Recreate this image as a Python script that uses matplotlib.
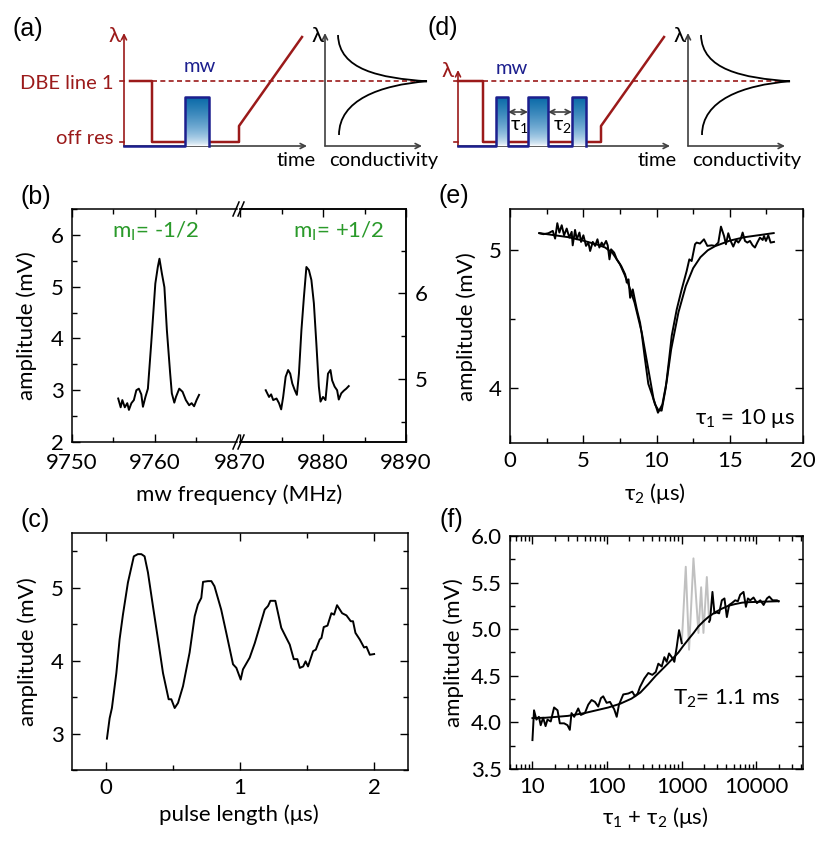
import numpy as np
import matplotlib.pyplot as plt
from matplotlib.colors import LinearSegmentedColormap
from matplotlib.lines import Line2D
from matplotlib.path import Path
from matplotlib.patches import PathPatch
from matplotlib.ticker import MultipleLocator, FixedLocator, LogLocator, NullFormatter, FuncFormatter

plt.rcParams['font.family'] = ['Lato', 'DejaVu Sans']
plt.rcParams['mathtext.fontset'] = 'custom'
plt.rcParams['mathtext.rm'] = 'Lato'
plt.rcParams['mathtext.it'] = 'Lato:italic'
plt.rcParams['mathtext.fallback'] = 'stixsans'

# ---------------- data ----------------
# (b) mw frequency sweeps of the two hyperfine lines
freq_lo = [9755.6, 9755.9, 9756.1, 9756.4, 9756.7, 9756.9, 9757.2, 9757.5, 9757.8, 9758.1,
           9758.4, 9758.6, 9758.9, 9759.2, 9759.6, 9760.1, 9760.4, 9760.6, 9760.9, 9761.2,
           9761.5, 9761.9, 9762.1, 9762.4, 9762.6, 9763.0, 9763.4, 9763.8, 9764.2, 9764.5,
           9764.8, 9765.1, 9765.4]
amp_lo = [2.84, 2.67, 2.81, 2.67, 2.75, 2.62, 2.75, 2.81, 3.00, 3.03,
          2.92, 2.68, 2.87, 3.03, 3.90, 5.06, 5.38, 5.54, 5.25, 4.99,
          4.16, 3.32, 2.94, 2.76, 2.87, 3.03, 2.97, 2.81, 2.71, 2.75,
          2.69, 2.81, 2.91]
freq_hi = [9873.1, 9873.5, 9873.75, 9874.0, 9874.4, 9874.7, 9874.96, 9875.2, 9875.5, 9875.8,
           9876.05, 9876.3, 9876.6, 9876.85, 9877.1, 9877.4, 9877.7, 9878.0, 9878.3, 9878.6,
           9878.9, 9879.2, 9879.5, 9879.7, 9880.0, 9880.3, 9880.6, 9880.9, 9881.1, 9881.4,
           9881.7, 9881.9, 9882.2, 9882.5, 9882.8, 9883.1]
amp_hi = [3.00, 2.87, 2.92, 2.81, 2.84, 2.75, 2.63, 2.87, 3.26, 3.39,
          3.32, 3.13, 3.00, 2.91, 3.32, 4.16, 4.80, 5.38, 5.32, 5.13,
          4.68, 3.90, 3.07, 2.78, 2.87, 2.81, 3.32, 3.39, 3.19, 3.07,
          3.00, 2.82, 2.94, 2.99, 3.03, 3.08]

# (c) Rabi oscillation
pulse_len = [0.01, 0.03, 0.047, 0.08, 0.104, 0.129, 0.166, 0.21, 0.24, 0.266,
             0.29, 0.315, 0.352, 0.39, 0.427, 0.469, 0.489, 0.514, 0.539, 0.576,
             0.625, 0.663, 0.687, 0.712, 0.725, 0.761, 0.787, 0.81, 0.86, 0.898,
             0.948, 0.973, 1.005, 1.022, 1.072, 1.11, 1.147, 1.184, 1.209, 1.226,
             1.263, 1.307, 1.345, 1.37, 1.40, 1.427, 1.445, 1.47, 1.488, 1.506,
             1.544, 1.564, 1.593, 1.606, 1.623, 1.651, 1.68, 1.70, 1.722, 1.76,
             1.792, 1.824, 1.841, 1.859, 1.891, 1.923, 1.941, 1.966, 1.998]
rabi_amp = [2.93, 3.21, 3.35, 3.83, 4.29, 4.63, 5.07, 5.43, 5.46, 5.46,
            5.43, 5.21, 4.75, 4.29, 3.83, 3.47, 3.47, 3.35, 3.42, 3.65,
            4.11, 4.61, 4.77, 4.86, 5.08, 5.09, 5.09, 5.02, 4.70, 4.38,
            3.95, 3.90, 3.74, 3.88, 4.04, 4.24, 4.47, 4.70, 4.75, 4.82,
            4.82, 4.45, 4.31, 4.22, 4.02, 4.02, 3.90, 3.92, 3.99, 3.92,
            4.13, 4.15, 4.29, 4.31, 4.46, 4.48, 4.65, 4.63, 4.76, 4.65,
            4.62, 4.54, 4.54, 4.38, 4.29, 4.18, 4.19, 4.08, 4.09]

# (e) echo vs tau2 (tau1 = 10 us)
tau2 = [2.00, 2.28, 2.62, 2.92, 3.08, 3.23, 3.37, 3.53, 3.69, 3.87,
        4.05, 4.21, 4.28, 4.44, 4.56, 4.74, 4.85, 5.01, 5.19, 5.35,
        5.47, 5.65, 5.81, 5.97, 6.10, 6.26, 6.38, 6.56, 6.67, 6.79,
        6.90, 7.11, 7.29, 7.59, 7.86, 7.97, 8.09, 8.20, 8.38, 8.54,
        8.66, 8.88, 9.00, 9.20, 9.44, 9.70, 9.90, 10.12, 10.35, 10.63,
        10.85, 11.04, 11.38, 11.72, 12.06, 12.24, 12.40, 12.63, 12.74, 12.97,
        13.24, 13.47, 13.77, 13.99, 14.22, 14.40, 14.61, 14.74, 14.90, 15.06,
        15.24, 15.43, 15.59, 15.74, 15.88, 16.04, 16.20, 16.38, 16.56, 16.72,
        16.88, 17.06, 17.25, 17.34, 17.47, 17.63, 17.79, 18.02]
echo_amp = [5.124, 5.117, 5.124, 5.141, 5.085, 5.197, 5.129, 5.182, 5.109, 5.158,
            5.092, 5.134, 5.036, 5.148, 5.080, 5.129, 5.061, 5.109, 5.032, 5.056,
            4.995, 5.061, 5.032, 5.080, 5.020, 5.056, 5.032, 5.068, 5.036, 4.934,
            5.007, 4.983, 4.934, 4.886, 4.825, 4.765, 4.789, 4.655, 4.716, 4.631,
            4.570, 4.473, 4.388, 4.220, 4.030, 3.950, 3.880, 3.840, 3.835, 4.000,
            4.200, 4.380, 4.570, 4.716, 4.850, 4.934, 4.922, 5.044, 5.056, 5.049,
            5.080, 5.032, 5.036, 5.032, 5.056, 5.172, 5.104, 5.044, 5.124, 5.068,
            5.027, 5.075, 5.056, 5.080, 5.129, 5.068, 5.056, 5.068, 5.036, 5.020,
            5.056, 5.092, 5.075, 5.104, 5.068, 5.109, 5.056, 5.061]
tau2_fit = [2, 3, 4, 5, 6, 6.5, 7, 7.5, 8, 8.5, 9, 9.5, 9.8, 10.1,
            10.4, 10.7, 11, 11.5, 12, 12.5, 13, 13.5, 14, 15, 16, 17, 18]
echo_fit = [5.125, 5.11, 5.095, 5.07, 5.04, 5.02, 4.98, 4.90, 4.78, 4.62, 4.40, 4.10, 3.92, 3.82,
            3.88, 4.05, 4.28, 4.55, 4.74, 4.87, 4.95, 5.00, 5.03, 5.07, 5.095, 5.11, 5.125]

# (f) echo decay vs tau1 + tau2
tau_sum_a = [10, 10.5, 11.3, 12.2, 12.9, 13.9, 15.0, 15.9, 17.6, 19.5,
             21.7, 23.3, 26.6, 29.5, 31.7, 33.4, 36.3, 41.1, 44.6, 50.5,
             56, 62.1, 68.8, 76.2, 82.8, 88.9, 98.8, 109.6, 125, 134.9,
             144.7, 165.2, 192.8, 218.3, 237.3, 257.8, 276.9, 316, 358, 405,
             450, 488, 542, 588, 631, 679, 738, 800, 861, 925, 1006]
decay_a = [3.81, 4.13, 4.03, 4.06, 3.97, 4.05, 3.96, 4.03, 4.01, 4.16,
           4.13, 3.99, 3.99, 3.97, 3.92, 4.10, 4.06, 4.15, 4.08, 4.10,
           4.19, 4.24, 4.22, 4.17, 4.26, 4.28, 4.21, 4.22, 4.14, 4.06,
           4.19, 4.30, 4.31, 4.33, 4.28, 4.31, 4.38, 4.47, 4.53, 4.51,
           4.54, 4.63, 4.60, 4.70, 4.65, 4.74, 4.70, 4.65, 4.81, 4.99, 4.85]
tau_sum_b = [2344, 2413, 2594, 2761, 2950, 3190, 3467, 3758, 4047, 4345,
             4728, 5238, 5690, 6110, 6772, 7290, 7760, 8330, 9230, 10250,
             11360, 12590, 13960, 15000, 16620, 19040, 20000]
decay_b = [5.08, 5.10, 5.40, 5.17, 5.18, 5.17, 5.31, 5.33, 5.13, 5.26,
           5.28, 5.31, 5.30, 5.37, 5.40, 5.24, 5.33, 5.31, 5.34, 5.28,
           5.31, 5.26, 5.33, 5.35, 5.31, 5.31, 5.30]
tau_sum_grey = [1006, 1138, 1260, 1443, 1683, 1829, 1964, 2181, 2344]
decay_grey = [4.85, 5.67, 4.78, 5.76, 4.96, 5.45, 4.96, 5.56, 5.08]
tau_sum_fit = [10, 15, 30, 50, 104, 150, 213, 280, 358, 450, 600, 750, 907, 1050,
               1232, 1450, 1682, 2000, 2282, 2800, 3466, 4200, 5238, 6500, 7910, 12000, 20000]
decay_fit = [4.046, 4.05, 4.07, 4.10, 4.16, 4.20, 4.255, 4.32, 4.41, 4.50, 4.60, 4.68, 4.75, 4.82,
             4.89, 4.96, 5.03, 5.09, 5.13, 5.18, 5.22, 5.25, 5.27, 5.285, 5.29, 5.295, 5.30]

# schematics (a) and (d): drawn in figure pixel units
seq_a_t = [130, 152, 152, 239, 239, 302]
seq_d_t = [458, 483, 483, 601, 601, 664]
seq_lam = [81, 81, 142, 142, 126, 37]
pulses_a = [(185, 209)]
pulses_d = [(496, 508), (528, 548), (572, 586)]

RED = '#9b1a1a'
NAVY = '#1c1f8e'
GREEN = '#2a9a2a'
AXC = '#404040'

W, H = 830, 847
fig = plt.figure(figsize=(8.3, 8.47), dpi=100)


def rect(l, t, r, b):
    return [l / W, 1 - b / H, (r - l) / W, (b - t) / H]


def ftext(x, y, s, **kw):
    fig.text(x / W, 1 - y / H, s, **kw)


# ---------- schematic layer ----------
sk = fig.add_axes([0, 0, 1, 1])
sk.set_facecolor('none')
sk.axis('off')
mw_cmap = LinearSegmentedColormap.from_list('mw', ['#ffffff', '#7fb3d8', '#0a6aa8'])
grad = (np.linspace(1, 0, 100) ** 0.6).reshape(-1, 1)
base_y = 146


def arrow(x0, y0, x1, y1, color, style='->'):
    sk.annotate('', xy=(x1, y1), xytext=(x0, y0),
                arrowprops=dict(arrowstyle=style, color=color, lw=1.2,
                                shrinkA=0, shrinkB=0, mutation_scale=9))


def sequence(x_ax, lam_top, t_end, red_t, pulses, dash_end):
    arrow(x_ax, base_y, x_ax, lam_top, RED)
    for y in (seq_lam[0], seq_lam[2]):
        sk.plot([x_ax - 4, x_ax], [y, y], color=RED, lw=1.2)
    arrow(x_ax, base_y, t_end, base_y, AXC)
    xs, ys = [x_ax], [base_y]
    for p0, p1 in pulses:
        xs += [p0, p0, p1, p1]
        ys += [base_y, 97, 97, base_y]
        sk.imshow(grad, cmap=mw_cmap, extent=(p0, p1, base_y, 97),
                  aspect='auto', zorder=3, vmin=0, vmax=1)
    sk.plot(xs, ys, color=NAVY, lw=1.8, zorder=4)
    sk.plot(red_t, seq_lam, color=RED, lw=1.8, zorder=2)
    sk.plot([red_t[1], dash_end], [seq_lam[0]] * 2, color=RED, lw=1.2,
            ls=(0, (3, 2)), zorder=1)


def lorentz(x_ax):
    arrow(x_ax, base_y, x_ax, 33, AXC)
    arrow(x_ax, base_y, x_ax + 97, base_y, AXC)
    verts = [(x_ax + 13, 35), (x_ax + 14, 70), (x_ax + 55, 78), (x_ax + 102, 81.3),
             (x_ax + 55, 85), (x_ax + 14, 100), (x_ax + 14, 135)]
    codes = [Path.MOVETO] + [Path.CURVE4] * 6
    sk.add_patch(PathPatch(Path(verts, codes), fill=False, lw=1.3, ec='black'))


sequence(124, 33, 307, seq_a_t, pulses_a, 427)
lorentz(325)
sequence(458, 70, 670, seq_d_t, pulses_d, 790)
lorentz(688)
for x0, x1 in ((508, 528), (548, 572)):
    arrow(x0, 112, x1, 112, AXC, '<->')
sk.set_xlim(0, W)
sk.set_ylim(H, 0)

fs = 14.5
sk.text(113, 89, 'DBE line 1', color=RED, fontsize=fs, ha='right', va='baseline')
sk.text(113, 144, 'off res', color=RED, fontsize=fs, ha='right', va='baseline')
sk.text(200, 72.5, 'mw', color=NAVY, fontsize=fs, ha='center', va='baseline')
sk.text(512, 74, 'mw', color=NAVY, fontsize=fs, ha='center', va='baseline')
sk.text(115, 41.5, 'λ', color=RED, fontsize=16, ha='center', va='baseline')
sk.text(448, 77, 'λ', color=RED, fontsize=16, ha='center', va='baseline')
sk.text(318, 41.5, 'λ', color='black', fontsize=16, ha='center', va='baseline')
sk.text(680, 42.5, 'λ', color='black', fontsize=16, ha='center', va='baseline')
sk.text(296, 166, 'time', fontsize=fs, ha='center', va='baseline')
sk.text(657, 166, 'time', fontsize=fs, ha='center', va='baseline')
sk.text(384, 166, 'conductivity', fontsize=fs, ha='center', va='baseline')
sk.text(747, 166, 'conductivity', fontsize=fs, ha='center', va='baseline')
sk.text(519, 130, 'τ$_1$', fontsize=fs, ha='center', va='baseline')
sk.text(562, 130, 'τ$_2$', fontsize=fs, ha='center', va='baseline')

# ---------- data panels ----------
LBL = 16


def style(ax, right=True):
    for s in ax.spines.values():
        s.set_linewidth(1.1)
    ax.tick_params(which='both', direction='in', top=True, right=right,
                   labelsize=LBL, width=1.0, pad=6)
    ax.tick_params(which='major', length=6)
    ax.tick_params(which='minor', length=3.5)


def labels(ax, box, xl, xpos, yl, ypos):
    l, t, r, b = box
    if xl:
        ax.set_xlabel(xl, fontsize=LBL, va='center')
        ax.xaxis.set_label_coords((xpos[0] - l) / (r - l), (b - xpos[1]) / (b - t))
    ax.set_ylabel(yl, fontsize=LBL, va='center')
    ax.yaxis.set_label_coords((ypos[0] - l) / (r - l), (b - ypos[1]) / (b - t))


# (b) broken frequency axis
box_b1 = (72, 209, 237, 442)
box_b2 = (240, 209, 406, 442)
axb1 = fig.add_axes(rect(*box_b1))
axb2 = fig.add_axes(rect(*box_b2))
axb1.plot(freq_lo, amp_lo, color='black', lw=1.4)
axb2.plot(freq_hi, amp_hi, color='black', lw=1.4)
axb1.set_xlim(9750, 9770)
axb2.set_xlim(9870, 9890)
for a in (axb1, axb2):
    a.set_ylim(2, 6.5)
    style(a, right=False)
    a.tick_params(axis='x', pad=8)
axb1.spines['right'].set_visible(False)
axb2.spines['left'].set_visible(False)
axb1.xaxis.set_major_locator(FixedLocator([9750, 9760]))
axb1.xaxis.set_minor_locator(FixedLocator([9755, 9765]))
axb2.xaxis.set_major_locator(FixedLocator([9870, 9880, 9890]))
axb2.xaxis.set_minor_locator(FixedLocator([9875, 9885]))
axb1.yaxis.set_major_locator(MultipleLocator(1))
axb1.yaxis.set_minor_locator(MultipleLocator(0.5))
axb3 = axb2.twinx()
axb2.tick_params(axis='y', which='both', left=False, right=False,
                 labelleft=False, labelright=False)
axb3.set_ylim(4.265, 6.985)
axb3.spines['left'].set_visible(False)
for s in axb3.spines.values():
    s.set_linewidth(1.1)
axb3.yaxis.set_major_locator(MultipleLocator(1))
axb3.yaxis.set_minor_locator(MultipleLocator(0.5))
axb3.tick_params(which='both', direction='in', labelsize=LBL, width=1.0, pad=6,
                 left=False, labelleft=False)
axb3.tick_params(which='major', length=6)
axb3.tick_params(which='minor', length=3.5)
labels(axb1, box_b1, None, None, 'amplitude (mV)', (27, 326))
ftext(239, 495, 'mw frequency (MHz)', fontsize=LBL, ha='center', va='center')
for yb in (209, 442):
    for dx in (0, 5):
        fig.add_artist(Line2D([(233 + dx) / W, (239 + dx) / W],
                              [1 - (yb + 7) / H, 1 - (yb - 7) / H],
                              color='black', lw=1.1))
ftext(112, 238, 'm$_\\mathrm{I}$= -1/2', color=GREEN, fontsize=LBL, va='baseline')
ftext(293, 238, 'm$_\\mathrm{I}$= +1/2', color=GREEN, fontsize=LBL, va='baseline')

# (e)
box_e = (510, 209, 803, 443)
axe = fig.add_axes(rect(*box_e))
axe.plot(tau2, echo_amp, color='black', lw=1.4)
axe.plot(tau2_fit, echo_fit, color='black', lw=1.4)
axe.set_xlim(0, 20)
axe.set_ylim(3.6, 5.3)
style(axe)
axe.xaxis.set_major_locator(MultipleLocator(5))
axe.xaxis.set_minor_locator(MultipleLocator(2.5))
axe.yaxis.set_major_locator(MultipleLocator(1))
axe.yaxis.set_minor_locator(MultipleLocator(0.5))
labels(axe, box_e, 'τ$_2$ (μs)', (655, 493), 'amplitude (mV)', (467, 327))
ftext(795, 424, 'τ$_1$ = 10 μs', fontsize=LBL, ha='right', va='baseline')

# (c)
box_c = (72, 533, 408, 770)
axc = fig.add_axes(rect(*box_c))
axc.plot(pulse_len, rabi_amp, color='black', lw=1.4)
axc.set_xlim(-0.25, 2.25)
axc.set_ylim(2.5, 5.75)
style(axc)
axc.xaxis.set_major_locator(MultipleLocator(1))
axc.xaxis.set_minor_locator(MultipleLocator(0.5))
axc.yaxis.set_major_locator(MultipleLocator(1))
axc.yaxis.set_minor_locator(MultipleLocator(0.5))
labels(axc, box_c, 'pulse length (μs)', (239, 815), 'amplitude (mV)', (28, 652))

# (f)
box_f = (510, 536, 803, 769)
axf = fig.add_axes(rect(*box_f))
axf.plot(tau_sum_grey, decay_grey, color='#c0c0c0', lw=1.4)
axf.plot(tau_sum_a, decay_a, color='black', lw=1.4)
axf.plot(tau_sum_b, decay_b, color='black', lw=1.4)
axf.plot(tau_sum_fit, decay_fit, color='black', lw=1.4)
axf.set_xscale('log')
axf.set_xlim(5, 42500)
axf.set_ylim(3.5, 6.0)
style(axf)
axf.xaxis.set_major_locator(LogLocator(base=10))
axf.xaxis.set_minor_locator(LogLocator(base=10, subs=np.arange(2, 10)))
axf.xaxis.set_minor_formatter(NullFormatter())
axf.xaxis.set_major_formatter(FuncFormatter(lambda v, p: f'{v:.0f}'))
axf.yaxis.set_major_locator(MultipleLocator(0.5))
axf.yaxis.set_minor_locator(MultipleLocator(0.25))
axf.yaxis.set_major_formatter(FuncFormatter(lambda v, p: f'{v:.1f}'))
labels(axf, box_f, 'τ$_1$ + τ$_2$ (μs)', (655, 817), 'amplitude (mV)', (454, 653))
ftext(673, 705, 'T$_2$= 1.1 ms', fontsize=LBL, va='baseline')

# panel letters
for x, y, s in ((28, 29, '(a)'), (443, 28, '(d)'), (36, 197, '(b)'),
                (454, 196, '(e)'), (35, 520, '(c)'), (451, 520, '(f)')):
    ftext(x, y, s, fontsize=18, family='Liberation Sans', ha='center', va='center')

fig.savefig('out.png', dpi=100)
